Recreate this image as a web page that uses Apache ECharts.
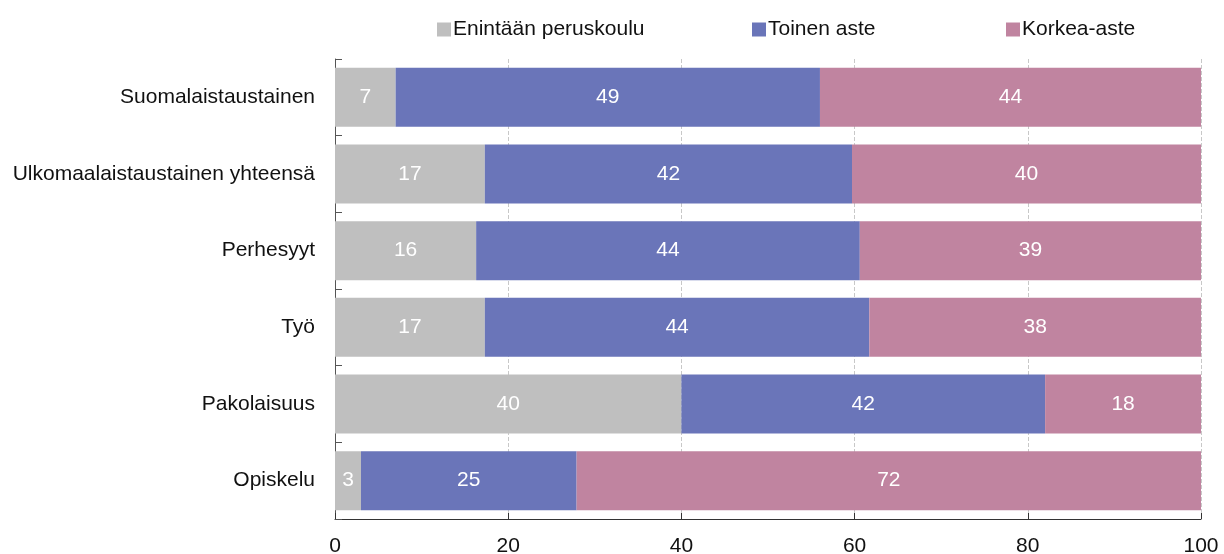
<!DOCTYPE html>
<html><head><meta charset="utf-8">
<script src="https://cdn.jsdelivr.net/npm/echarts@6/dist/echarts.min.js"></script>
<style>html,body{margin:0;padding:0;background:#fff}#c{width:1224px;height:554px}</style>
</head><body><div id="c"></div>
<script>
const categories = ["Suomalaistaustainen","Ulkomaalaistaustainen yhteensä","Perhesyyt","Työ","Pakolaisuus","Opiskelu"];
const seriesNames = ["Enintään peruskoulu","Toinen aste","Korkea-aste"];
const basic = [7.0, 17.3, 16.3, 17.3, 40.0, 3.0];
const secondary = [49.0, 42.4, 44.3, 44.4, 42.0, 24.9];
const higher = [44.0, 40.3, 39.4, 38.3, 18.0, 72.1];
const colors = ["#bfbfbf","#6a75b9","#c084a0"];
const font = "'Liberation Sans', Arial, sans-serif";

const datasets = [basic, secondary, higher];
const legendLefts = [437, 752, 1006];
const chart = echarts.init(document.getElementById('c'));
chart.setOption({
  animation: false,
  textStyle: {fontFamily: font},
  legend: seriesNames.map((n, i) => ({
    top: 19, left: legendLefts[i], padding: 0, itemWidth: 14, itemHeight: 14, itemGap: 0,
    icon: 'rect',
    textStyle: {fontSize: 21, color: '#111', fontFamily: font, padding: [0,0,0,-3]},
    data: [n]
  })),
  grid: {left: 335, right: 23, top: 59, bottom: 35, containLabel: false, outerBoundsMode: 'none'},
  xAxis: {
    type: 'value', min: 0, max: 100, interval: 20,
    axisLine: {show: true, lineStyle: {color: '#333'}},
    axisTick: {show: true, inside: true, length: 6, lineStyle: {color: '#333'}},
    axisLabel: {fontSize: 21, color: '#111', margin: 17, fontFamily: font},
    splitLine: {show: true, lineStyle: {type: 'dashed', color: '#c8c8c8'}}
  },
  yAxis: {
    type: 'category', inverse: true, data: categories,
    axisLine: {show: true, lineStyle: {color: '#555'}},
    axisTick: {show: true, inside: true, length: 7, lineStyle: {color: '#555'}},
    axisLabel: {fontSize: 21, color: '#111', margin: 20, fontFamily: font}
  },
  series: datasets.map((d, i) => ({
    name: seriesNames[i], type: 'bar', stack: 'all', barWidth: 59,
    itemStyle: {color: colors[i]},
    label: {show: true, position: 'inside', color: '#fff', fontSize: 21, fontFamily: font,
      formatter: p => Math.round(p.value)},
    data: d
  }))
});
</script></body></html>
